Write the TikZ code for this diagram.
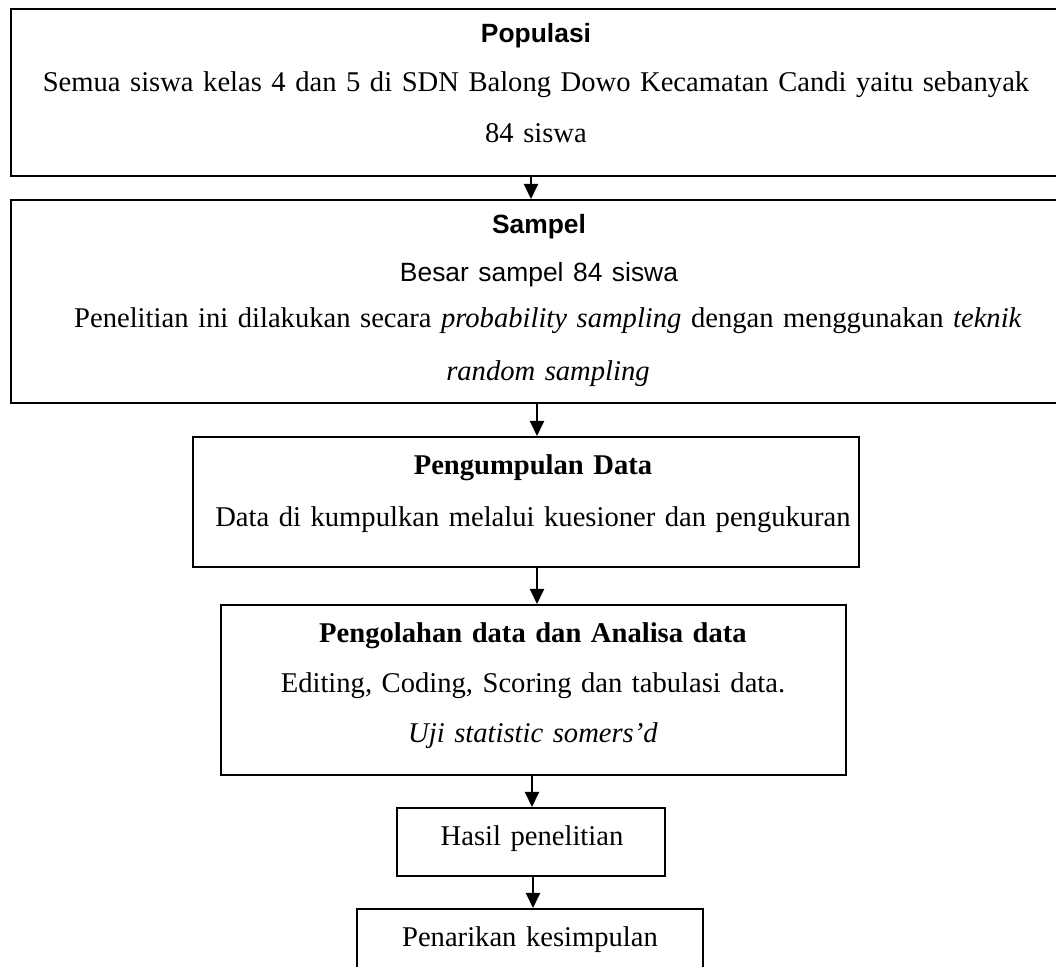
\documentclass[tikz,border=0pt]{standalone}
\usepackage{fontspec}
\setmainfont{Liberation Serif}
\setsansfont{Liberation Sans}
\usetikzlibrary{arrows.meta}
\begin{document}
\begin{tikzpicture}[x=0.5pt,y=-0.5pt]
        \tikzset{box/.style={draw=black,line width=1pt,inner sep=0pt},
                 txt/.style={anchor=base,align=center,text width=#1,inner sep=0pt,font=\fontsize{14.3}{25}\selectfont},
                 txt/.default={500pt},
                 arr/.style={-{Triangle[width=7pt,length=7.5pt]},line width=1pt}}
        \newcommand{\sans}[1]{{\sffamily\fontsize{13.2}{25}\selectfont #1}}
        
        \clip (0,0) rectangle (1056,967);
        
        %Populasi
        \node[box,minimum width=532pt,minimum height=83.5pt] (pop) at (543,92.5) {};
        \node[txt=520pt] (popT) at (536,43) {\sans{\bfseries Populasi}\\[-0.5pt]
            Semua siswa kelas 4 dan 5 di SDN Balong Dowo Kecamatan Candi yaitu sebanyak\\[0.5pt]
            84 siswa};
        
        %Sampel
        \node[box,minimum width=532pt,minimum height=101.5pt] (samp) at (543,301.5) {};
        \node[txt=520pt] (sampT) at (539,234) {\sans{\bfseries Sampel}\\[-1pt]
            \sans{Besar sampel 84 siswa}\\[-2pt]
            \hspace*{9pt}Penelitian ini dilakukan secara \textit{probability sampling} dengan menggunakan \textit{teknik}\\[1.5pt]
            \hspace*{9pt}\textit{random sampling}};
        
        %Pengumpulan data
        \node[box,minimum width=333pt,minimum height=65pt] (kump) at (526,502) {};
        \node[txt=330pt] (kumpT) at (533,475) {\textbf{Pengumpulan Data}\\[1pt]
            Data di kumpulkan melalui kuesioner dan pengukuran};
        
        %Pengolahan data
        \node[box,minimum width=312.5pt,minimum height=85pt] (olah) at (533.5,690) {};
        \node[txt=310pt] (olahT) at (533,643) {\textbf{Pengolahan data dan Analisa data}\\
            Editing, Coding, Scoring dan tabulasi data.\\
            \textit{Uji statistic somers'd}};
        
        %Hasil dan kesimpulan
        \node[box,minimum width=134pt,minimum height=34pt] (hasil) at (531,842) {};
        \node[txt=130pt] (hasilT) at (532,846) {Hasil penelitian};
        \node[box,minimum width=173pt,minimum height=45.5pt] (tarik) at (530,954.5) {};
        \node[txt=170pt] (tarikT) at (530,947) {Penarikan kesimpulan};
        
        %arrows
        \draw[arr] ([xshift=-6pt]pop.south) -- ([xshift=-6pt]samp.north);
        \draw[arr] ([xshift=-3pt]samp.south) -- ([xshift=5.5pt]kump.north);
        \draw[arr] ([xshift=5.5pt]kump.south) -- ([xshift=1.75pt]olah.north);
        \draw[arr] ([xshift=-0.75pt]olah.south) -- ([xshift=0.5pt]hasil.north);
        \draw[arr] ([xshift=1pt]hasil.south) -- ([xshift=1.5pt]tarik.north);
\end{tikzpicture}
\end{document}
